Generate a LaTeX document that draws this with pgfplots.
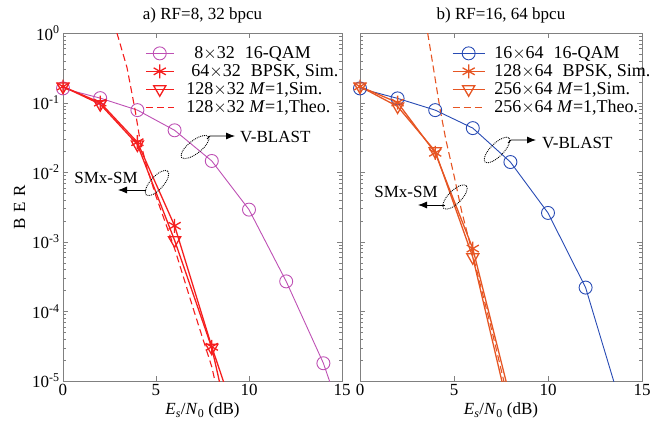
\documentclass[border=0pt]{standalone}
\usepackage{fontspec}
\setmainfont{Liberation Serif}
\usepackage{pgfplots}
\pgfplotsset{compat=1.18}
\usetikzlibrary{arrows.meta}
\definecolor{cmag}{RGB}{190,80,180}
\definecolor{cred}{RGB}{245,30,30}
\definecolor{cblue}{RGB}{40,75,180}
\definecolor{corg}{RGB}{230,85,35}
\newcommand{\fs}{\fontsize{17}{20}\selectfont}
\newcommand{\lfs}{\fontsize{18}{20}\selectfont}
\begin{document}
\begin{tikzpicture}[x=1pt,y=1pt]
\useasboundingbox (-63,-43) rectangle (593,381);
\begin{axis}[at={(0pt,0pt)},
 scale only axis, width=279pt, height=348pt,
 ymode=log, xmin=0, xmax=15, ymin=1e-5, ymax=1,
 xtick={0,5,10,15}, xticklabels={0,5,10,15},
 ytick={1e-5,1e-4,1e-3,1e-2,1e-1,1},
 axis line style={gray}, tick style={gray}, tick align=inside,
 major tick length=5pt, minor tick length=3pt,
 tick label style={font=\fs, black},
 label style={font=\fs},
 title style={font=\fs},
 xlabel={\textit{E}\textsubscript{\textit{s}}/\textit{N}\textsubscript{0} (dB)},
 legend style={draw=none, fill=none, anchor=north west, font=\lfs, row sep=0.5pt, inner sep=1pt, at={(0.29,0.97)},
   /tikz/every odd column/.append style={column sep=10pt}},
 legend cell align=left,
 legend image code/.code={\draw[mark repeat=2,mark phase=2] plot coordinates {(0pt,0pt)(14pt,0pt)(28pt,0pt)};},
 title={a) RF=8, 32 bpcu},
 ylabel={B\,\,E\,\,R},
 yticklabels={10\textsuperscript{-5},10\textsuperscript{-4},10\textsuperscript{-3},10\textsuperscript{-2},10\textsuperscript{-1},10\textsuperscript{0}}]
\addplot[cmag, line width=0.9pt, mark=o, mark size=6.5pt] coordinates {(0,0.16)(2,0.116)(4,0.078)(6,0.04)(8,0.0145)(10,0.0029)(12,0.00027)(14,1.8e-5)(16,5e-7)};
\addlegendentry{\lfs\,\;8$\times$32\;\;16-QAM}
\addplot[cred, line width=1.3pt, mark=asterisk, mark size=7pt] coordinates {(0,0.17)(2,0.1)(4,0.027)(6,0.0017)(8,3.1e-5)(10,8e-7)};
\addlegendentry{\lfs\;64$\times$32\;\;BPSK, Sim.}
\addplot[cred, line width=1.3pt, mark=triangle, mark size=7pt, every mark/.append style={rotate=180}] coordinates {(0,0.17)(2,0.095)(4,0.025)(6,0.00105)(8,3e-5)(10,1.3e-7)};
\addlegendentry{\lfs 128$\times$32 \textit{M}=1,Sim.}
\addplot[cred, line width=1.1pt, dashed, dash pattern=on 7pt off 4pt] coordinates {(2.9,1)(3.44,0.32)(3.87,0.08)(4.14,0.029)(4.5,0.012)(5,0.0045)(6,8e-4)(7,1.1e-4)(8,1.6e-5)(8.5,4e-6)};
\addlegendentry{\lfs 128$\times$32 \textit{M}=1,Theo.}
\end{axis}
\begin{axis}[at={(297pt,0pt)},
 scale only axis, width=282pt, height=348pt,
 ymode=log, xmin=0, xmax=15, ymin=1e-5, ymax=1,
 xtick={0,5,10,15}, xticklabels={0,5,10,15},
 ytick={1e-5,1e-4,1e-3,1e-2,1e-1,1},
 axis line style={gray}, tick style={gray}, tick align=inside,
 major tick length=5pt, minor tick length=3pt,
 tick label style={font=\fs, black},
 label style={font=\fs},
 title style={font=\fs},
 xlabel={\textit{E}\textsubscript{\textit{s}}/\textit{N}\textsubscript{0} (dB)},
 legend style={draw=none, fill=none, anchor=north west, font=\lfs, row sep=0.5pt, inner sep=1pt, at={(0.322,0.97)},
   /tikz/every odd column/.append style={column sep=7pt}},
 legend cell align=left,
 legend image code/.code={\draw[mark repeat=2,mark phase=2] plot coordinates {(0pt,0pt)(16pt,0pt)(32pt,0pt)};},
 title={b) RF=16, 64 bpcu},
 yticklabels={}]
\addplot[cblue, line width=0.9pt, mark=o, mark size=6.5pt] coordinates {(0,0.16)(2,0.115)(4,0.078)(6,0.043)(8,0.014)(10,0.0026)(12,0.00022)(14,3.5e-6)};
\addlegendentry{\lfs 16$\times$64\;\;16-QAM}
\addplot[corg, line width=1.3pt, mark=asterisk, mark size=7pt] coordinates {(0,0.17)(2,0.1)(4,0.019)(6,8e-4)(8,5.6e-6)};
\addlegendentry{\lfs 128$\times$64\;\;BPSK, Sim.}
\addplot[corg, line width=1.3pt, mark=triangle, mark size=7pt, every mark/.append style={rotate=180}] coordinates {(0,0.17)(2,0.088)(4,0.02)(6,6e-4)(8,3e-6)};
\addlegendentry{\lfs 256$\times$64 \textit{M}=1,Sim.}
\addplot[corg, line width=1.1pt, dashed, dash pattern=on 7pt off 4pt] coordinates {(3.6,1)(3.9,0.32)(4.26,0.08)(4.57,0.029)(5,0.009)(5.4,0.0028)(6,6.5e-4)(7,5.5e-5)(7.65,1e-5)(8,3.5e-6)};
\addlegendentry{\lfs 256$\times$64 \textit{M}=1,Theo.}
\end{axis}
% annotations (pixel -> (px-63, 381-py))
\draw[densely dotted, line width=0.9pt] (132,234) ellipse[x radius=17, y radius=6.5, rotate=38];
\draw[line width=0.8pt, -{Latex[length=9pt,width=7pt]}] (144,242) -- (147,245) -- (172,245);
\node[anchor=west, font=\fs, inner sep=0pt] at (177,244) {V-BLAST};
\draw[densely dotted, line width=0.9pt] (94,198) ellipse[x radius=16, y radius=6.5, rotate=48];
\draw[line width=0.8pt, -{Latex[length=9pt,width=7pt]}] (83,191) -- (55,191);
\node[font=\fs, inner sep=0pt] at (43,203) {SMx-SM};
\draw[densely dotted, line width=0.9pt] (434,231) ellipse[x radius=17, y radius=6.5, rotate=45];
\draw[line width=0.8pt, -{Latex[length=9pt,width=7pt]}] (445,238) -- (448,241) -- (473,241);
\node[anchor=west, font=\fs, inner sep=0pt] at (479,238) {V-BLAST};
\draw[densely dotted, line width=0.9pt] (392,184) ellipse[x radius=16, y radius=6.5, rotate=45];
\draw[line width=0.8pt, -{Latex[length=9pt,width=7pt]}] (382,176) -- (355,176);
\node[font=\fs, inner sep=0pt] at (343,189) {SMx-SM};
\end{tikzpicture}
\end{document}
